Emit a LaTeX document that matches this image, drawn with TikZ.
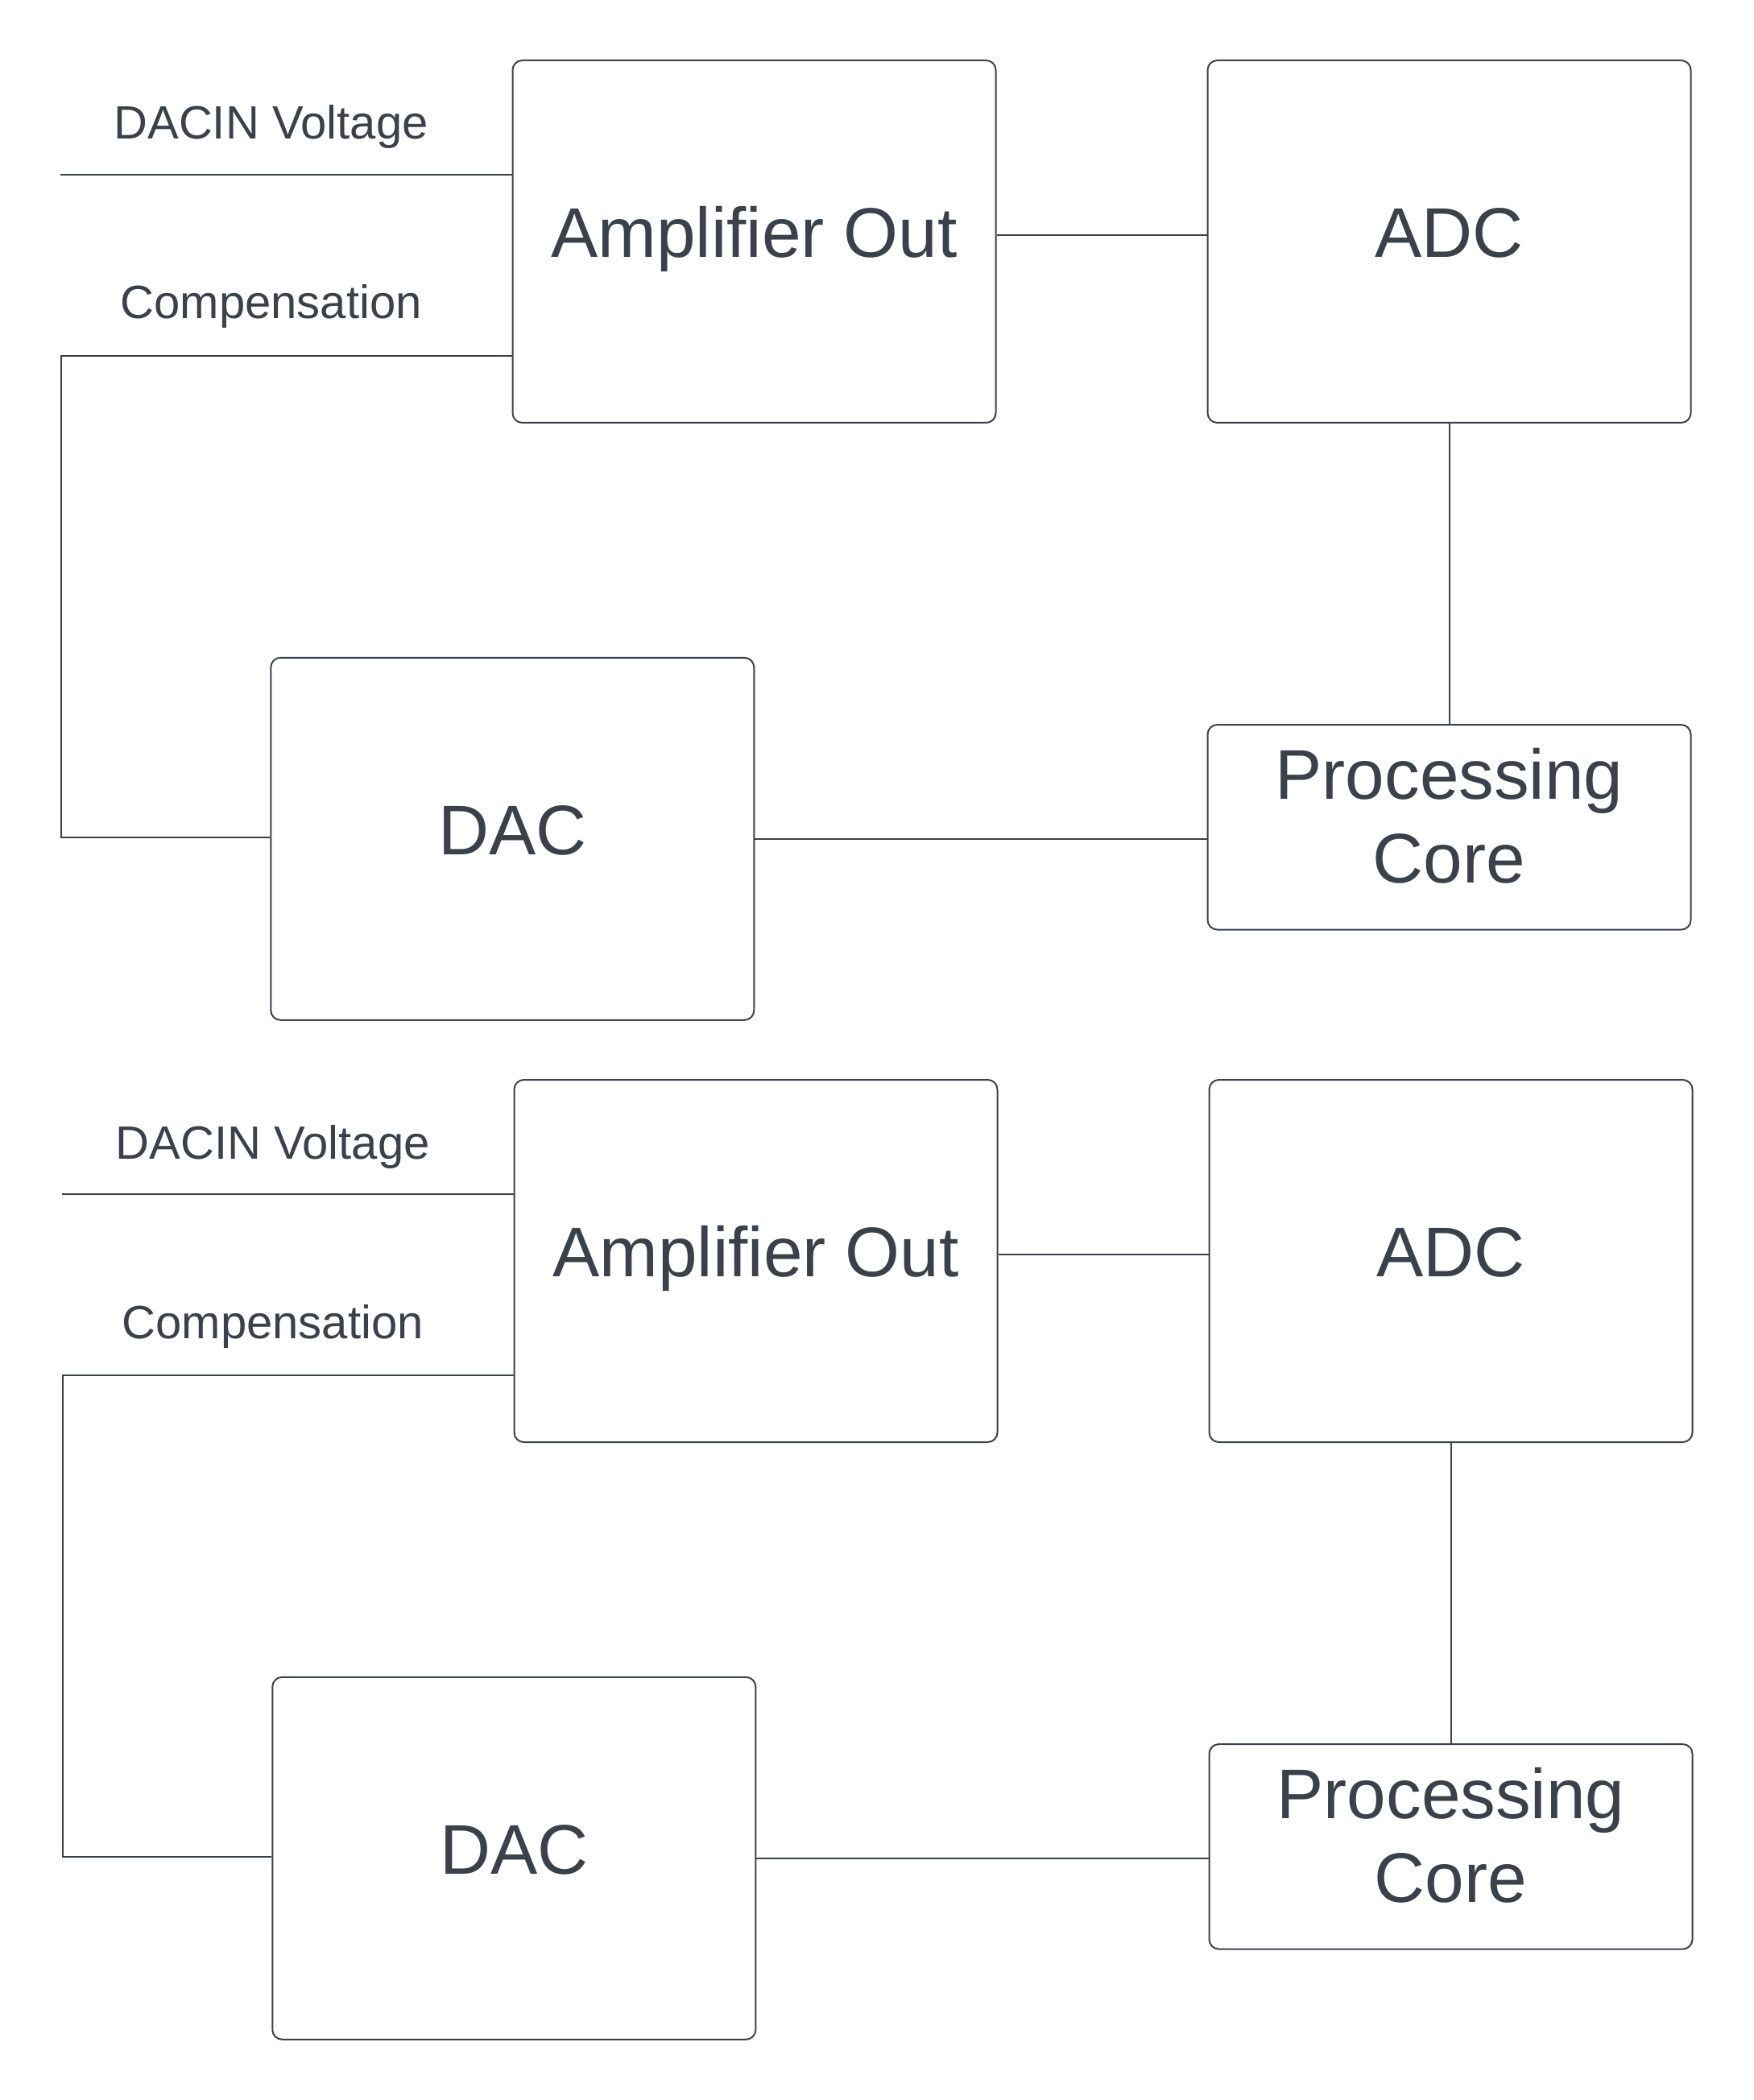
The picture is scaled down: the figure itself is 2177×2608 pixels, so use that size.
\documentclass[tikz,border=0pt]{standalone}
\usepackage{fontspec}
\setmainfont{Liberation Sans}
\definecolor{ink}{HTML}{3A414A}
\begin{document}
\begin{tikzpicture}[x=0.3pt,y=-0.3pt, color=ink, line width=0.6pt,
 blk/.style={draw=ink, rounded corners=3.6pt, inner sep=0pt, minimum width=180pt, font=\fontsize{26.2}{31.35}\selectfont},
 tall/.style={blk, minimum height=135pt, text height=18pt, text depth=6.3pt},
 flat/.style={blk, minimum height=76.35pt, align=center, text height=44pt, text depth=2.2pt},
 lbl/.style={anchor=base, font=\fontsize{17.4}{20.8}\selectfont, inner sep=0pt}]
\useasboundingbox (0,0) rectangle (2177,2608);
\foreach \s/\dx/\dy in {a/0/0, b/2/1266}{
\begin{scope}[shift={(\dx,\dy)}]
\node[tall] (amp\s) at (936.5,300) {Amplifier Out};
\node[tall] (adc\s) at (1799.5,300) {ADC};
\node[tall] (dac\s) at (636.3,1041.8) {DAC};
\node[flat] (proc\s) at (1799.5,1027.3) {Processing\\Core};
\node[lbl] (vin\s) at (336.6,173) {DACIN Voltage};
\node[lbl] (comp\s) at (336.7,396) {Compensation};
\coordinate (vs\s) at (74.6,216.6);
\coordinate (ct\s) at (75.5,441.6);
\coordinate (cb\s) at (75.5,1039.7);
\draw (vs\s) -- (vs\s -| amp\s.west);
\draw (amp\s.west |- ct\s) -- (ct\s) -- (cb\s) -- (cb\s -| dac\s.west);
\draw ([yshift=2.5pt]amp\s.east) -- ([yshift=2.5pt]adc\s.west);
\draw (adc\s.south) -- (proc\s.north);
\draw (dac\s.east) -- (dac\s.east -| proc\s.west);
\end{scope}}
\end{tikzpicture}
\end{document}
